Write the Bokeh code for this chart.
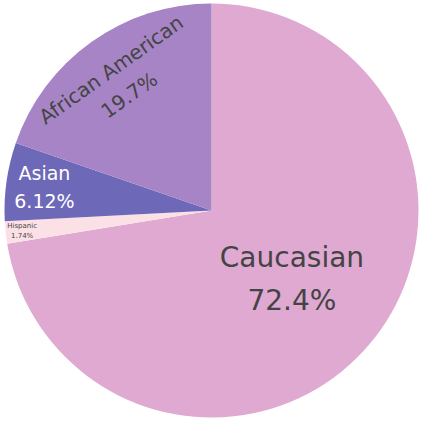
import math
from bokeh.plotting import figure
from bokeh.models import Range1d, ColumnDataSource
from bokeh.core.properties import value
from bokeh.embed import file_html
from bokeh.resources import INLINE

# data
categories = ["Caucasian", "Hispanic", "Asian", "African American"]
percent = [72.4, 1.74, 6.12, 19.7]
labels = ["Caucasian\n72.4%", "Hispanic\n1.74%", "Asian\n6.12%", "African American\n19.7%"]

# styles
colors = ["#dfa9d2", "#fbe0e6", "#6d68b8", "#a784c6"]
text_colors = ["#444444", "#444444", "#ffffff", "#444444"]
font_sizes = ["28px", "7px", "19px", "20px"]
label_radius = [0.51, 0.92, 0.815, 0.76]
tangential = [False, False, False, True]

W, H = 423, 421
CX, CY, R = 211, 211, 207

p = figure(width=W, height=H, output_backend="svg", toolbar_location=None,
           x_range=Range1d(0, W), y_range=Range1d(0, H), min_border=0)
p.axis.visible = False
p.grid.visible = False
p.outline_line_color = None
p.background_fill_color = "white"

total = sum(percent)
starts, ends, lx, ly, angs = [], [], [], [], []
c = 0.0
for v, lr, tg in zip(percent, label_radius, tangential):
    c0 = c / total
    c += v
    c1 = c / total
    starts.append(math.pi / 2 - 2 * math.pi * c1)
    ends.append(math.pi / 2 - 2 * math.pi * c0)
    mid = math.pi / 2 - 2 * math.pi * (c0 + c1) / 2
    lx.append(CX + lr * R * math.cos(mid))
    ly.append(CY + lr * R * math.sin(mid))
    angs.append((mid - math.pi / 2) if tg else 0.0)

src = ColumnDataSource(dict(start=starts, end=ends, color=colors, x=[CX] * 4, y=[CY] * 4))
p.wedge(x="x", y="y", radius=R, start_angle="start", end_angle="end",
        fill_color="color", line_color=None, source=src)

for i in range(4):
    p.text(x=[lx[i]], y=[ly[i]], text=[labels[i]], angle=angs[i],
           text_align="center", text_baseline="middle",
           text_font=value("DejaVu Sans"), text_font_size=font_sizes[i],
           text_color=text_colors[i], text_line_height=1.3)

open("out.html", "w").write(file_html(p, INLINE))
